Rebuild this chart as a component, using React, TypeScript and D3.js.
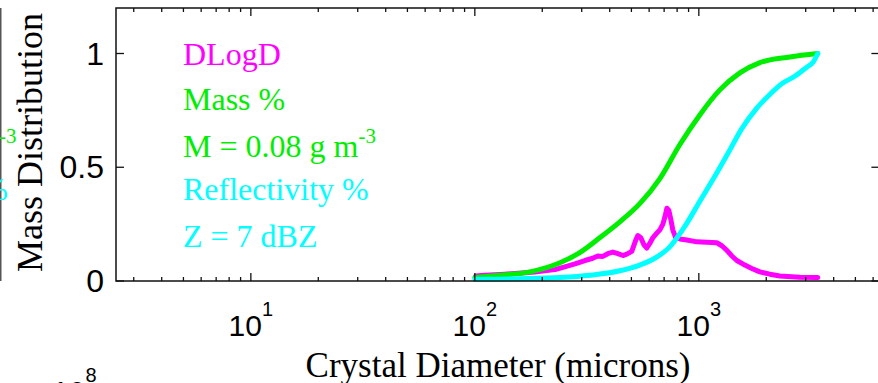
import React from "react";
import * as d3 from "d3";

// Crystal size distribution (microns) and normalised curves
const dlogdDiam = [101, 111, 123, 136, 151, 167, 185, 205, 228, 252, 280, 310, 336, 354, 373, 392, 413, 435, 458, 477, 502, 523, 534, 551, 568, 586, 604, 623, 649, 670, 691, 705, 720, 735, 750, 765, 789, 823, 884, 980, 1086, 1203, 1267, 1334, 1404, 1478, 1605, 1724, 1872, 2075, 2299, 2824, 3397];
const dlogdValue = [0.022, 0.025, 0.028, 0.03, 0.033, 0.036, 0.04, 0.045, 0.05, 0.062, 0.075, 0.09, 0.1, 0.11, 0.108, 0.12, 0.127, 0.12, 0.112, 0.118, 0.13, 0.18, 0.2, 0.19, 0.16, 0.145, 0.165, 0.19, 0.21, 0.225, 0.25, 0.28, 0.32, 0.31, 0.27, 0.225, 0.19, 0.185, 0.18, 0.172, 0.17, 0.168, 0.155, 0.135, 0.11, 0.09, 0.07, 0.055, 0.04, 0.03, 0.022, 0.017, 0.015];

const massDiam = [100, 129, 176, 240, 294, 361, 444, 545, 670, 823, 1010, 1241, 1525, 1873, 2549, 3397];
const massValue = [0.015, 0.025, 0.04, 0.08, 0.125, 0.19, 0.26, 0.34, 0.45, 0.6, 0.73, 0.84, 0.915, 0.96, 0.985, 1.0];

const reflDiam = [100, 159, 240, 326, 444, 545, 636, 742, 866, 1010, 1179, 1348, 1556, 1815, 2075, 2371, 2683, 3035, 3228, 3397];
const reflValue = [0.008, 0.01, 0.015, 0.025, 0.045, 0.07, 0.1, 0.15, 0.24, 0.35, 0.46, 0.56, 0.67, 0.76, 0.82, 0.87, 0.9, 0.94, 0.96, 1.0];

const xMajorTicks = [10, 100, 1000];
const xMinorTicks = [3, 4, 5, 6, 7, 8, 9, 20, 30, 40, 50, 60, 70, 80, 90, 200, 300, 400, 500, 600, 700, 800, 900, 2000, 3000, 4000, 5000, 6000];
const xTickExponents = ["1", "2", "3"];
const yTicks = [0, 0.5, 1];
const yTickLabels = ["0", "0.5", "1"];

const legendLines = [
  { text: "DLogD", color: "#ff00ff" },
  { text: "Mass %", color: "#00ee00" },
  { text: "M = 0.08 g m", sup: "-3", color: "#00ee00" },
  { text: "Reflectivity %", color: "#00ffff" },
  { text: "Z = 7 dBZ", color: "#00ffff" },
];

const W = 878;
const H = 383;
const box = { left: 116, right: 879.4, top: 8, bottom: 281 };

const sans = "'Liberation Sans', Arial, Helvetica, sans-serif";
const serif = "'Liberation Serif', 'Times New Roman', Times, serif";

export default function App() {
  const x = d3.scaleLog().domain([2.5, 6400]).range([box.left, box.right]);
  const y = d3.scaleLinear().domain([0, 1.2]).range([box.bottom, box.top]);

  const mkLine = (ds: number[], vs: number[], curve: d3.CurveFactory) =>
    d3
      .line<number>()
      .x((_, i) => x(ds[i]))
      .y((v) => y(v))
      .curve(curve)(vs) || "";

  const series = [
    { d: mkLine(dlogdDiam, dlogdValue, d3.curveLinear), color: "#ff00ff" },
    { d: mkLine(massDiam, massValue, d3.curveMonotoneX), color: "#00ee00" },
    { d: mkLine(reflDiam, reflValue, d3.curveMonotoneX), color: "#00ffff" },
  ];

  const major = 8;
  const minor = 4;

  return (
    <svg
      width={W}
      height={H}
      style={{ position: "absolute", left: 0, top: 0, background: "#fff" }}
    >
      <rect x={0} y={0} width={W} height={H} fill="#fff" />

      {/* neighbouring panel fragments */}
      <line x1={0.75} x2={0.75} y1={box.top} y2={box.bottom} stroke="#555" strokeWidth={1.5} />
      <text x={-1} y={143} fontFamily={serif} fontSize={21} fill="#00ee00">-3</text>
      <text x={8} y={200} fontFamily={serif} fontSize={32} fill="#00ffff" textAnchor="end">%</text>
      <text x={52} y={402} fontFamily={sans} fontSize={30} fill="#000">
        10<tspan dy={-20} fontSize={20}>8</tspan>
      </text>

      {/* curves */}
      {series.map((s, i) => (
        <path
          key={i}
          d={s.d}
          fill="none"
          stroke={s.color}
          strokeWidth={5}
          strokeLinejoin="round"
          strokeLinecap="round"
        />
      ))}

      {/* frame */}
      <rect
        x={box.left}
        y={box.top}
        width={box.right - box.left}
        height={box.bottom - box.top}
        fill="none"
        stroke="#111"
        strokeWidth={1.5}
      />

      {/* x ticks */}
      {xMajorTicks.map((t) => (
        <g key={"M" + t}>
          <line x1={x(t)} x2={x(t)} y1={box.bottom} y2={box.bottom - major} stroke="#111" strokeWidth={1.3} />
          <line x1={x(t)} x2={x(t)} y1={box.top} y2={box.top + major} stroke="#111" strokeWidth={1.3} />
        </g>
      ))}
      {xMinorTicks.map((t) => (
        <g key={"m" + t}>
          <line x1={x(t)} x2={x(t)} y1={box.bottom} y2={box.bottom - minor} stroke="#111" strokeWidth={1.3} />
          <line x1={x(t)} x2={x(t)} y1={box.top} y2={box.top + minor} stroke="#111" strokeWidth={1.3} />
        </g>
      ))}
      {xMajorTicks.map((t, i) => (
        <text key={"l" + t} x={x(t)} y={336} fontFamily={sans} fontSize={30} textAnchor="middle" fill="#000">
          10<tspan dy={-20} fontSize={20}>{xTickExponents[i]}</tspan>
        </text>
      ))}

      {/* y ticks */}
      {yTicks.map((t, i) => (
        <g key={"y" + t}>
          <line x1={box.left} x2={box.left + major} y1={y(t)} y2={y(t)} stroke="#111" strokeWidth={1.3} />
          <line x1={box.right} x2={box.right - major} y1={y(t)} y2={y(t)} stroke="#111" strokeWidth={1.3} />
          <text x={104} y={y(t) + 11} fontFamily={sans} fontSize={32} textAnchor="end" fill="#000">
            {yTickLabels[i]}
          </text>
        </g>
      ))}

      {/* axis titles */}
      <text
        transform={`translate(42,142.5) rotate(-90)`}
        fontFamily={serif}
        fontSize={36}
        textAnchor="middle"
        fill="#000"
      >
        Mass Distribution
      </text>
      <text x={498} y={377} fontFamily={serif} fontSize={35} textAnchor="middle" fill="#000">
        Crystal Diameter (microns)
      </text>

      {/* legend text */}
      {legendLines.map((l, i) => (
        <text key={l.text} x={183} y={[65, 110, 157, 200, 247][i]} fontFamily={serif} fontSize={32} fill={l.color}>
          {l.text}
          {l.sup ? <tspan dy={-14} fontSize={21}>{l.sup}</tspan> : null}
        </text>
      ))}
    </svg>
  );
}
